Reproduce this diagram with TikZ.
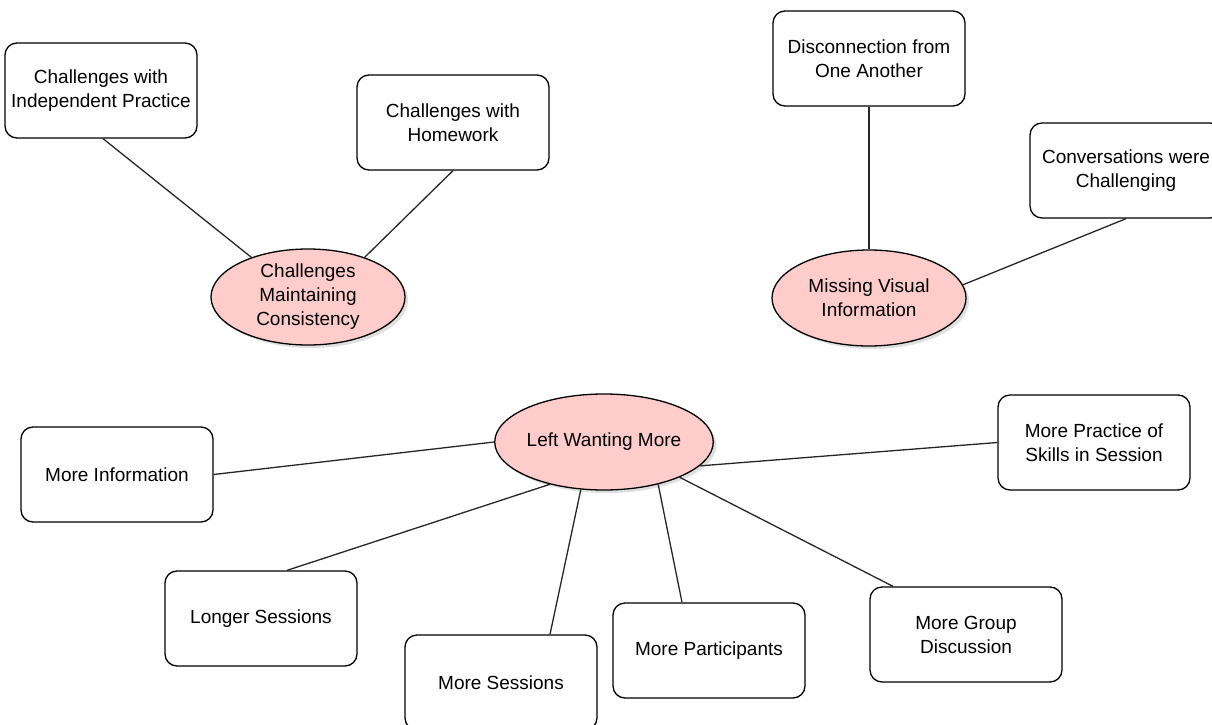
\documentclass[tikz,border=0pt]{standalone}
\usepackage{fontspec}
\setmainfont{Liberation Sans}
\usetikzlibrary{shapes.geometric,shadows}
\definecolor{themepink}{HTML}{FFCCCC}
\tikzset{
  topic/.style={ellipse, draw=black, line width=1.3pt, fill=themepink,
    minimum width=194pt, minimum height=96pt, inner sep=0pt, align=center,
    drop shadow={opacity=0.25, shadow xshift=3pt, shadow yshift=-3pt}},
  leaf/.style={rectangle, rounded corners=12pt, draw=black, line width=1.3pt,
    fill=white, minimum width=192pt, minimum height=95pt, inner sep=0pt, align=center},
  link/.style={line width=1.3pt, draw=black!85}
}
\begin{document}
\begin{tikzpicture}[x=1pt, y=-1pt, font=\fontsize{19}{24}\selectfont]
\useasboundingbox (0,0) rectangle (1212,725);
\clip (0,0) rectangle (1212,725);

% central topics
\node[topic] (cmc) at (308,297) {Challenges\\Maintaining\\Consistency};
\node[topic] (mvi) at (869,298) {Missing Visual\\Information};
\node[topic, minimum width=190pt] (lwm) at (604,442) {Left Wanting More};

% sub-themes
\node[leaf] (indep) at (101,90.5) {Challenges with\\Independent Practice};
\node[leaf] (hw) at (453,122.5) {Challenges with\\Homework};
\node[leaf] (disc) at (869,58.5) {Disconnection from\\One Another};
\node[leaf] (conv) at (1126,170.5) {Conversations were\\Challenging};
\node[leaf] (info) at (117,474.5) {More Information};
\node[leaf] (skills) at (1094,442.5) {More Practice of\\Skills in Session};
\node[leaf] (longer) at (261,618.5) {Longer Sessions};
\node[leaf] (sessions) at (501,682.5) {More Sessions};
\node[leaf] (part) at (709,650.5) {More Participants};
\node[leaf] (group) at (966,634.5) {More Group\\Discussion};

% connectors
\draw[link] ([xshift=2pt]indep.south) -- (cmc.145);
\draw[link] (hw.south) -- (cmc.35);
\draw[link] (disc.south) -- (mvi.north);
\draw[link] (conv.south) -- (mvi.8);
\draw[link] (info.east) -- (lwm.west);
\draw[link] (skills.west) -- (lwm.-14);
\draw[link] ([xshift=26pt]longer.north) -- (lwm.218);
\draw[link] ([xshift=49pt]sessions.north) -- (lwm.244);
\draw[link] ([xshift=-27pt]part.north) -- (lwm.-38);
\draw[link] ([xshift=-73pt]group.north) -- (lwm.-25);
\end{tikzpicture}
\end{document}
